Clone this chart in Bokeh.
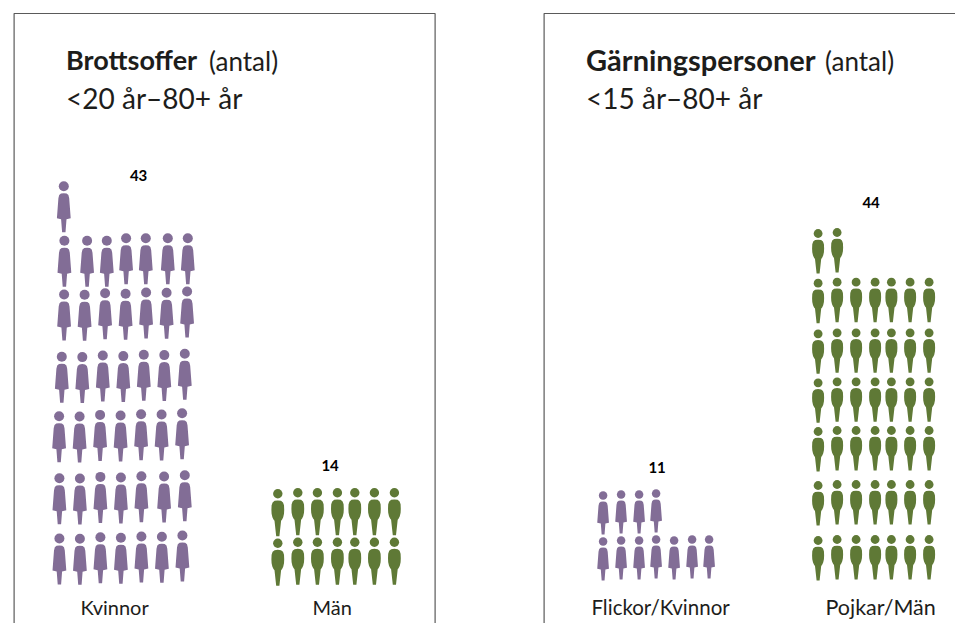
from bokeh.plotting import figure
from bokeh.layouts import row
from bokeh.models import Range1d
from bokeh.core.properties import value
from bokeh.embed import file_html
from bokeh.resources import INLINE

# ---- data ----
panel_titles = ["Brottsoffer", "Gärningspersoner"]
panel_units = ["(antal)", "(antal)"]
panel_subtitles = ["<20 år–80+ år", "<15 år–80+ år"]
left_categories = ["Kvinnor", "Män"]
left_counts = [43, 14]
right_categories = ["Flickor/Kvinnor", "Pojkar/Män"]
right_counts = [11, 44]

# ---- styling / layout ----
PURPLE = "#826d96"
GREEN = "#5f7936"
BORDER = "#5a5a5a"
TEXT = "#1d1d1b"
FONT = "Lato"
PER_ROW = 7

WOMAN_X = [0, 2.8, 4.6, 5.4, 6.9, 2.7, 1.7, -1.7, -2.7, -6.9, -5.4, -4.6, -2.8]
WOMAN_Y = [7.0, 7.3, 8.8, 12.0, 32.0, 33.0, 46.0, 46.0, 33.0, 32.0, 12.0, 8.8, 7.3]
WOMAN_R = 5.0

MAN_X = [0, 3.2, 5.2, 6.2, 6.4, 6.2, 5.4, 4.3, 3.3, 1.6, -1.6, -3.3, -4.3, -5.4, -6.2, -6.4, -6.2, -5.2, -3.2]
MAN_Y = [6.6, 7.0, 8.6, 11.5, 16.0, 20.0, 23.5, 25.8, 27.0, 42.5, 42.5, 27.0, 25.8, 23.5, 20.0, 16.0, 11.5, 8.6, 7.0]
MAN_R = 4.7

W_DX = [0, 20.5, 41, 61.5, 82, 102.5, 123]
W_DX_B = [0, 20.5, 41, 61.5, 82, 104.7, 125.4]
W_DX_C = [0, 22.7, 42.4, 61.7, 81.4, 103.4, 123.4]
W_TILT = [0, .3, -1.3, -.7, -2, -1.7, -3]
W_TILT_C = [0, 0, 0, -2.6, -2.6, -2.6, -2.6]
W2_DX = [0, 18, 36, 53, 71, 89, 106]
M_DX = [0, 20, 39.6, 59.6, 77, 96.6, 116.6]
M2_DX = [0, 19, 38, 57, 73.3, 92, 111]
M_TILT = [1, 0, 0, 0, 0, 0, 0]

# each row, bottom first: (x of first figure, y of first head, column offsets, tilt)
GROUPS = {
    "Kvinnor": dict(scale=1.0, rows=[
        (59.3, 539.0, W_DX, W_TILT), (59.3, 478.7, W_DX_B, W_TILT), (59.0, 416.7, W_DX, W_TILT),
        (61.7, 357.3, W_DX, W_TILT), (64.0, 295.0, W_DX, W_TILT), (64.3, 241.3, W_DX_C, W_TILT_C),
        (63.7, 186.7, W_DX, W_TILT)]),
    "Män": dict(scale=1.0, rows=[(277.7, 542.7, M_DX, M_TILT), (277.7, 493.3, M_DX, M_TILT)]),
    "Flickor/Kvinnor": dict(scale=0.85, rows=[
        (603, 542, W2_DX, [0, -1, -1, -2, -1, -2, -2]), (603, 496, W2_DX, [0, -1, -1, -2, -1, -2, -2])]),
    "Pojkar/Män": dict(scale=0.94, rows=[
        (818, 540, M2_DX, M_TILT), (818, 485, M2_DX, M_TILT), (818, 431, M2_DX, M_TILT),
        (818, 382.3, M2_DX, M_TILT), (818, 333.3, M2_DX, M_TILT), (818, 282.7, M2_DX, M_TILT),
        (818, 233, M2_DX, M_TILT)]),
}


def draw_group(p, name, count, woman):
    g = GROUPS[name]
    sx, sy = (WOMAN_X, WOMAN_Y) if woman else (MAN_X, MAN_Y)
    r = (WOMAN_R if woman else MAN_R) * g["scale"]
    color = PURPLE if woman else GREEN
    hx, hy, bx, by = [], [], [], []
    for i in range(count):
        x0, y0, dx, tilt = g["rows"][i // PER_ROW]
        c = i % PER_ROW
        x, y = x0 + dx[c], y0 + tilt[c]
        hx.append(x)
        hy.append(y)
        bx.append([x + v * g["scale"] for v in sx])
        by.append([y + v * g["scale"] for v in sy])
    p.circle(hx, hy, radius=r, fill_color=color, line_color=None)
    p.patches(bx, by, fill_color=color, line_color=None)


def label(p, x, y, s, size, bold=False, align="left", color=TEXT):
    p.text([x], [y], text=[s], text_font=value(FONT), text_font_size=f"{size}px",
           text_font_style="bold" if bold else "normal", text_align=align,
           text_baseline="middle", text_color=color)


def panel(x0, x1, width):
    p = figure(width=width, height=623, x_range=Range1d(x0, x1), y_range=Range1d(624, 1),
               x_axis_type=None, y_axis_type=None, toolbar_location=None,
               output_backend="svg", min_border=0, outline_line_color=None)
    p.grid.visible = False
    return p


p1 = panel(0.4, 478.4, 478)
p1.line([14, 14, 435, 435], [624, 14, 14, 624], line_color=BORDER, line_width=1.2)
label(p1, 66, 60, panel_titles[0], 27, bold=True)
label(p1, 209, 61, panel_units[0], 26)
label(p1, 66, 98, panel_subtitles[0], 28)
draw_group(p1, left_categories[0], left_counts[0], True)
draw_group(p1, left_categories[1], left_counts[1], False)
label(p1, 138.5, 176, str(left_counts[0]), 15, True, "center", "#000000")
label(p1, 330, 466, str(left_counts[1]), 15, True, "center", "#000000")
label(p1, 114.5, 607, left_categories[0], 20, align="center")
label(p1, 332, 607, left_categories[1], 20, align="center")

p2 = panel(478.4, 955.4, 477)
p2.line([544, 544, 956], [624, 14, 14], line_color=BORDER, line_width=1.2)
label(p2, 586, 60, panel_titles[1], 29, bold=True)
label(p2, 825, 61, panel_units[1], 26)
label(p2, 586, 98, panel_subtitles[1], 28)
draw_group(p2, right_categories[0], right_counts[0], True)
draw_group(p2, right_categories[1], right_counts[1], False)
label(p2, 657, 468, str(right_counts[0]), 15, True, "center", "#000000")
label(p2, 871, 203, str(right_counts[1]), 15, True, "center", "#000000")
label(p2, 660.5, 607, right_categories[0], 20.5, align="center")
label(p2, 880.5, 607, right_categories[1], 21.5, align="center")

layout = row(p1, p2, spacing=0)
open("out.html", "w").write(file_html(layout, INLINE))
